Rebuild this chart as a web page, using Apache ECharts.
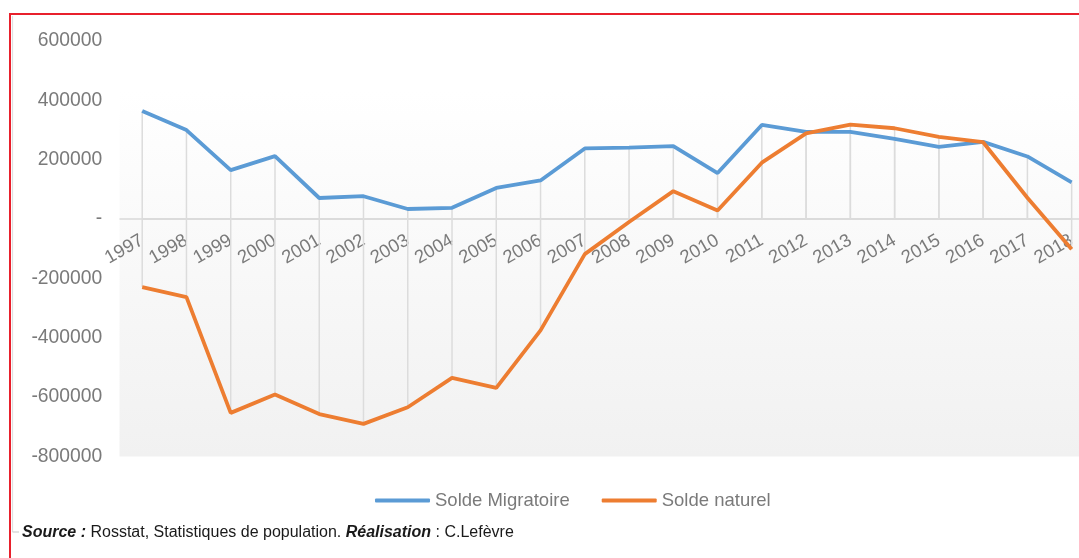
<!DOCTYPE html>
<html>
<head>
<meta charset="utf-8">
<script src="https://cdn.jsdelivr.net/npm/echarts@6/dist/echarts.min.js"></script>
<style>
html,body{margin:0;padding:0;background:#fff;}
#c{width:1079px;height:558px;}
</style>
</head>
<body>
<div id="c"></div>
<script>
const years = ['1997','1998','1999','2000','2001','2002','2003','2004','2005','2006','2007','2008','2009','2010','2011','2012','2013','2014','2015','2016','2017','2018'];
const soldeMigratoire = [364000,300000,165000,212000,71000,77000,34000,38000,105000,130000,238000,241000,246000,155000,317000,294000,294000,270000,243000,260000,211000,124000];
const soldeNaturel = [-229000,-263000,-653000,-591000,-657000,-690000,-634000,-535000,-569000,-375000,-118000,-10000,94000,29000,190000,289000,318000,306000,277000,259000,72000,-102000];
const yTicks = {min:-800000, max:600000, interval:200000};

const chart = echarts.init(document.getElementById('c'), null, {renderer:'canvas'});
const grey = '#7a7a7a';
const fontFam = 'Liberation Sans, Arial, sans-serif';
const gridTop = 41, gridBottom = 101.5, H = 558, gridLeft = 142.2, gridRight = 4;
const plotH = H - gridTop - gridBottom;
const zeroOffset = plotH * (0 - yTicks.min) / (yTicks.max - yTicks.min);
const zeroY = gridTop + plotH - zeroOffset;
chart.setOption({
  animation:false,
  textStyle:{fontFamily:fontFam},
  grid:{left:gridLeft, right:gridRight, top:gridTop, bottom:gridBottom, show:false},
  legend:{left:370, top:486, itemWidth:55, itemHeight:4, itemGap:32, icon:'roundRect',
    textStyle:{color:grey, fontSize:18.5, fontFamily:fontFam},
    data:['Solde Migratoire','Solde naturel']},
  xAxis:{type:'category', data:years, boundaryGap:false, offset:-zeroOffset,
    axisLine:{onZero:false, lineStyle:{color:'#d9d9d9', width:1.5}},
    axisTick:{show:false},
    axisLabel:{rotate:30, color:grey, fontSize:18.5, margin:20, interval:0},
    splitLine:{show:false}},
  yAxis:{type:'value', min:yTicks.min, max:yTicks.max, interval:yTicks.interval,
    axisLine:{show:false}, axisTick:{show:false}, splitLine:{show:false},
    axisLabel:{color:grey, fontSize:19.3, margin:40,
      formatter:v=> v===0 ? '-' : String(v)}},
  series:[
    {name:'drop1', type:'bar', data:soldeMigratoire, barWidth:1.5, barGap:'-100%', itemStyle:{color:'#dcdcdc'}, silent:true, z:1, legendHoverLink:false},
    {name:'drop2', type:'bar', data:soldeNaturel, barWidth:1.5, barGap:'-100%', itemStyle:{color:'#dcdcdc'}, silent:true, z:1, legendHoverLink:false},
    {name:'Solde Migratoire', type:'line', data:soldeMigratoire, symbol:'none', lineStyle:{color:'#5b9bd5', width:3.8}, itemStyle:{color:'#5b9bd5'}, z:3},
    {name:'Solde naturel', type:'line', data:soldeNaturel, symbol:'none', lineStyle:{color:'#ed7d31', width:3.8}, itemStyle:{color:'#ed7d31'}, z:4}
  ],
  graphic:[
    {type:'rect', z:-10, silent:true, shape:{x:119.5, y:gridTop, width:1079-119.5, height:plotH},
      style:{fill:{type:'linear',x:0,y:0,x2:0,y2:1,colorStops:[{offset:0,color:'#ffffff'},{offset:0.12,color:'#ffffff'},{offset:1,color:'#f1f1f1'}]}}},
    {type:'line', z:-5, silent:true, shape:{x1:119.5,y1:zeroY,x2:1079,y2:zeroY}, style:{stroke:'#d9d9d9', lineWidth:1.5}},
    {type:'line', shape:{x1:12.5,y1:16,x2:12.5,y2:532}, style:{stroke:'#e0e0e0', lineWidth:1.2}},
    {type:'line', shape:{x1:12.5,y1:532,x2:19,y2:532}, style:{stroke:'#d0d0d0', lineWidth:1.2}},
    {type:'line', shape:{x1:10,y1:14,x2:1079,y2:14}, style:{stroke:'#e8202c', lineWidth:2}},
    {type:'line', shape:{x1:10,y1:13,x2:10,y2:558}, style:{stroke:'#e8202c', lineWidth:2}},
    {type:'text', left:22, top:525, style:{
      text:'{b|Source :} Rosstat, Statistiques de population. {b|Réalisation} : C.Lefèvre',
      fill:'#1a1a1a', fontSize:16, fontFamily:fontFam,
      rich:{b:{fontWeight:'bold', fontStyle:'italic', fontSize:16, fontFamily:fontFam, fill:'#1a1a1a'}}}}
  ]
});
</script>
</body>
</html>
